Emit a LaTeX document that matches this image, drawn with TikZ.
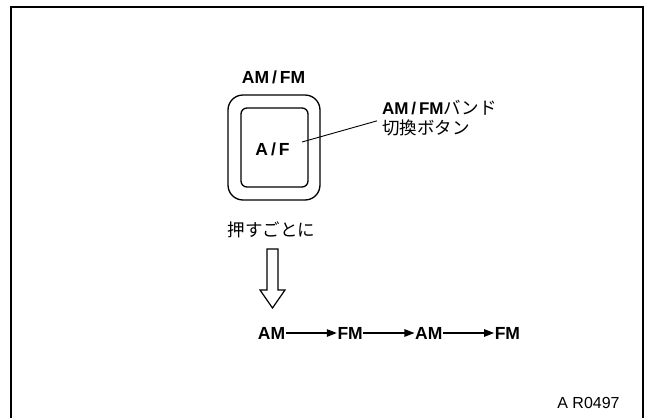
\documentclass[tikz,border=0pt]{standalone}
\usepackage{fontspec}
\setmainfont{Liberation Sans}
\newfontfamily\jp{Noto Sans CJK JP}
\usetikzlibrary{positioning, arrows.meta}

\tikzset{
  band/.style={font=\fontsize{17.5}{17.5}\selectfont\bfseries, inner sep=0.5pt},
  jplabel/.style={font=\fontsize{17.5}{19.5}\selectfont\jp, inner sep=0pt, align=left},
  keybox/.style={draw, line width=1.3pt, inner sep=0pt}
}

\begin{document}
\begin{tikzpicture}[x=1pt, y=-1pt, node distance=51pt, >={Triangle[length=10pt, width=7.5pt]}]
    \useasboundingbox (0,0) rectangle (649,418);
    % Frame
    \draw[line width=1.6pt] (11,418) -- (11,7) -- (643,7) -- (643,418);

    % Button
    \node[band] (title) at (273.5,77.5) {AM\,/\,FM};
    \node[keybox, rounded corners=15pt, minimum width=92pt, minimum height=105pt] (outer) at (274,147.5) {};
    \node[keybox, rounded corners=6pt, minimum width=67pt, minimum height=79pt] (inner) at (274.5,147.5) {};
    \node[band] (af) at (272.5,149) {A\,/\,F};
    \coordinate (lead) at (302,142);
    \node[jplabel, anchor=north west] (name) at (382,100) {{\rmfamily\bfseries\fontsize{17}{19.5}\selectfont AM\,/\,FM}バンド\\切換ボタン};
    \draw[line width=0.9pt] (lead) -- ([xshift=-5pt, yshift=-3pt]name.west);

    % Press
    \node[font=\fontsize{17.5}{17.5}\selectfont\jp, inner sep=0pt] (press) at (271.5,230) {押すごとに};
    \draw[line width=1.2pt, line join=miter]
        (267,249) -- (278,249) -- (278,290) -- (285,290) -- (272.5,308)
        -- (260,290) -- (267,290) -- cycle;

    % Sequence
    \node[band] (am1) at (271.5,333) {AM};
    \node[band, right=of am1] (fm1) {FM};
    \node[band, right=of fm1] (am2) {AM};
    \node[band, right=of am2] (fm2) {FM};
    \draw[->, line width=1.2pt] (am1) -- (fm1);
    \draw[->, line width=1.2pt] (fm1) -- (am2);
    \draw[->, line width=1.2pt] (am2) -- (fm2);

    \node[font=\fontsize{16}{16}\selectfont, inner sep=0pt] (code) at (588.5,403) {A R0497};
\end{tikzpicture}
\end{document}
